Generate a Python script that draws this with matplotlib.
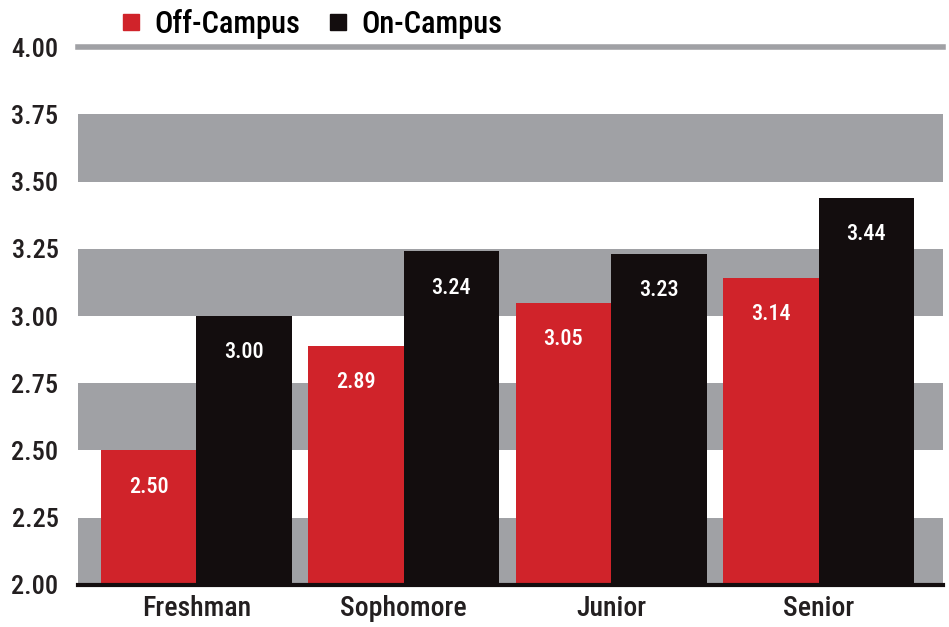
import matplotlib
matplotlib.use("Agg")
import matplotlib.pyplot as plt
from matplotlib import font_manager
from matplotlib.lines import Line2D
import numpy as np

# data
classes = ["Freshman", "Sophomore", "Junior", "Senior"]
off_campus = [2.50, 2.89, 3.05, 3.14]
on_campus = [3.00, 3.24, 3.23, 3.44]
y_ticks = [2.00, 2.25, 2.50, 2.75, 3.00, 3.25, 3.50, 3.75, 4.00]

RED = "#D0232A"
BLACK = "#130D0E"
GRAY = "#A0A1A5"
TXT = "#231F20"

# narrow font if available
names = {f.name for f in font_manager.fontManager.ttflist}
fam = [n for n in ["Roboto Condensed", "Liberation Sans Narrow", "Liberation Sans"] if n in names]
plt.rcParams["font.family"] = fam + ["DejaVu Sans"]
WT = "medium"

fig = plt.figure(figsize=(9.49, 6.27), dpi=100)
ax = fig.add_axes([0.0822, 0.067, 0.9115, 0.858])

# gray bands
for lo in [2.00, 2.50, 3.00, 3.50]:
    ax.axhspan(lo, lo + 0.25, color=GRAY, lw=0, zorder=0)

x = np.arange(len(classes))
w = 0.46
b1 = ax.bar(x - w / 2, off_campus, w, color=RED, zorder=2)
b2 = ax.bar(x + w / 2, on_campus, w, color=BLACK, zorder=2)

for bars, vals in [(b1, off_campus), (b2, on_campus)]:
    for r, v in zip(bars, vals):
        ax.annotate(f"{v:.2f}", (r.get_x() + r.get_width() / 2, v),
                    xytext=(0, -26), textcoords="offset points",
                    ha="center", va="center", color="white", fontsize=16,
                    fontweight=WT, zorder=3)

ax.set_ylim(2.0, 4.0)
ax.set_xlim(-0.57, 3.6)
ax.set_yticks(y_ticks)
ax.set_yticklabels([f"{t:.2f}" for t in y_ticks], fontsize=19, color=TXT, fontweight=WT)
ax.set_xticks(x)
ax.set_xticklabels(classes, fontsize=20, color=TXT, fontweight=WT)
ax.tick_params(axis="both", length=0)
ax.tick_params(axis="y", pad=14)
ax.tick_params(axis="x", pad=7)

for s in ["left", "right"]:
    ax.spines[s].set_visible(False)
ax.spines["top"].set_color(GRAY)
ax.spines["top"].set_linewidth(4)
ax.spines["bottom"].set_color(BLACK)
ax.spines["bottom"].set_linewidth(3)

handles = [Line2D([], [], marker="s", ls="", color=RED, markersize=11),
           Line2D([], [], marker="s", ls="", color=BLACK, markersize=11)]
fig.legend(handles, ["Off-Campus", "On-Campus"], ncol=2, frameon=False,
           loc="center left", bbox_to_anchor=(0.095, 0.962),
           prop={"size": 22, "weight": WT},
           handletextpad=0.3, columnspacing=0.8, handlelength=0.9)

fig.savefig("out.png", dpi=100)
